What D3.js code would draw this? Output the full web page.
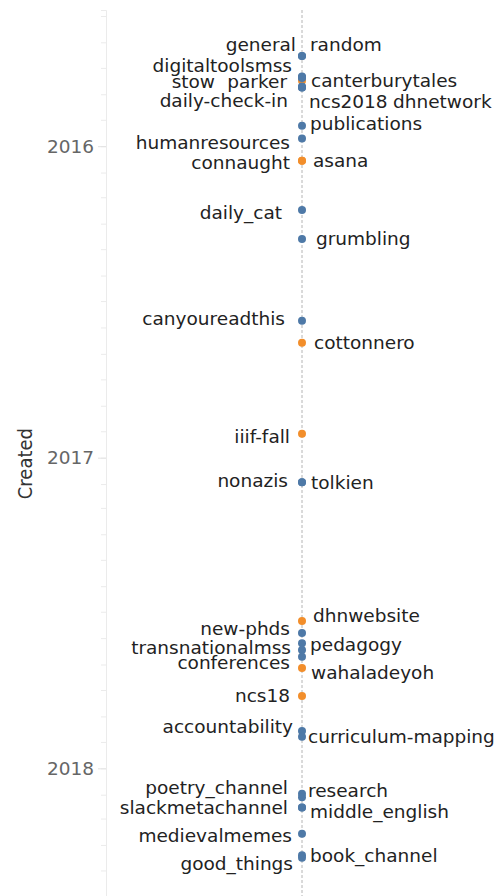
<!DOCTYPE html>
<html>
<head>
<meta charset="utf-8">
<script src="https://cdn.jsdelivr.net/npm/d3@7"></script>
<style>
  body { margin: 0; background: #fff; }
  svg text { font-family: 'DejaVu Sans', sans-serif; }
</style>
</head>
<body>
<div id="timeline"></div>
<script>
// channel name, creation date and kind (drawn in this order)
const channels = [
  'general', 'random', 'canterburytales', 'digitaltoolsmss', 'stow', 'parker',
  'dhnetwork', 'ncs2018', 'daily-check-in', 'publications', 'humanresources',
  'connaught', 'asana', 'daily_cat', 'grumbling', 'canyoureadthis', 'cottonnero',
  'iiif-fall', 'nonazis', 'tolkien', 'dhnwebsite', 'new-phds', 'transnationalmss',
  'pedagogy', 'conferences', 'wahaladeyoh', 'ncs18', 'accountability',
  'curriculum-mapping', 'poetry_channel', 'research', 'slackmetachannel',
  'middle_english', 'medievalmemes', 'book_channel', 'good_things'
]
const created = [
  '2015-09-17', '2015-09-17', '2015-10-16', '2015-10-11', '2015-10-12', '2015-10-13',
  '2015-10-23', '2015-10-24', '2015-10-24', '2015-12-08', '2015-12-23',
  '2016-01-18', '2016-01-18', '2016-03-16', '2016-04-19', '2016-07-24', '2016-08-19',
  '2016-12-04', '2017-01-30', '2017-01-30', '2017-07-12', '2017-07-26', '2017-08-07',
  '2017-08-15', '2017-08-23', '2017-09-05', '2017-10-08', '2017-11-18',
  '2017-11-25', '2018-01-31', '2018-02-04', '2018-02-16',
  '2018-02-16', '2018-03-19', '2018-04-13', '2018-04-16'
]
const kind = [
  'public', 'public', 'private', 'public', 'public', 'public',
  'public', 'public', 'public', 'public', 'public',
  'private', 'private', 'public', 'public', 'public', 'private',
  'private', 'public', 'public', 'private', 'public', 'public',
  'public', 'public', 'private', 'private', 'public',
  'public', 'public', 'public', 'public',
  'public', 'public', 'public', 'public'
]
const yearTicks = ['2016', '2017', '2018']
const axisTitle = 'Created'

// label placement: side, dx from the dot, dy from the dot
const labelLayout = {
  general: ['left', -6, -11],
  random: ['right', 8, -11],
  canterburytales: ['right', 9, 0],
  digitaltoolsmss: ['left', -10, -11],
  stow: ['left', -87, 4],
  parker: ['left', -15, 3],
  dhnetwork: ['right', 91, 15],
  ncs2018: ['right', 7, 14],
  'daily-check-in': ['left', -14, 13],
  publications: ['right', 8, -2],
  humanresources: ['left', -12, 4],
  connaught: ['left', -12, 2],
  asana: ['right', 11, 0],
  daily_cat: ['left', -20, 3],
  grumbling: ['right', 14, 0],
  canyoureadthis: ['left', -17, -2],
  cottonnero: ['right', 12, 0],
  'iiif-fall': ['left', -12, 3],
  nonazis: ['left', -14, -2],
  tolkien: ['right', 9, 0],
  dhnwebsite: ['right', 11, -6],
  'new-phds': ['left', -12, -4],
  transnationalmss: ['left', -11, 4],
  pedagogy: ['right', 8, -6],
  conferences: ['left', -12, 6],
  wahaladeyoh: ['right', 9, 5],
  ncs18: ['left', -12, 0],
  accountability: ['left', -9, -4],
  'curriculum-mapping': ['right', 6, 0],
  poetry_channel: ['left', -14, -6],
  research: ['right', 6, -7],
  slackmetachannel: ['left', -14, 0],
  middle_english: ['right', 8, 4],
  medievalmemes: ['left', -10, 2],
  book_channel: ['right', 8, 0],
  good_things: ['left', -9, 6]
}

const colors = { public: '#4e79a7', private: '#f28e2b' }

const width = 498,
  height = 896

const svg = d3
  .select('#timeline')
  .append('svg')
  .attr('width', width)
  .attr('height', height)

const parse = d3.timeParse('%Y-%m-%d')
const data = channels.map((name, i) => ({ name, date: parse(created[i]), kind: kind[i] }))

// time runs downwards
const y = d3
  .scaleTime()
  .domain([parse('2015-07-25'), parse('2018-05-31')])
  .range([10, height])

// single centred column
const x = d3.scaleLinear().domain([-1, 1]).range([106, width])

// minor month ticks
svg
  .append('g')
  .attr('class', 'minor')
  .attr('transform', 'translate(106,0)')
  .call(d3.axisLeft(y).ticks(d3.timeMonth.every(1)).tickSize(5).tickFormat(''))
  .call((g) => g.select('.domain').attr('stroke', '#ebebeb'))
  .call((g) => g.selectAll('.tick line').attr('stroke', '#ebebeb'))

// year ticks with labels
const yearDates = yearTicks.map((t) => parse(t + '-01-01'))
svg
  .append('g')
  .attr('class', 'major')
  .attr('transform', 'translate(106,0)')
  .call(d3.axisLeft(y).tickValues(yearDates).tickSize(8).tickPadding(4).tickFormat(d3.timeFormat('%Y')))
  .call((g) => g.select('.domain').remove())
  .call((g) => g.selectAll('.tick line').attr('stroke', '#e3e3e3'))
  .call((g) =>
    g
      .selectAll('.tick text')
      .attr('fill', '#666')
      .style('font-size', '18.5px')
      .style('font-family', "'DejaVu Sans', sans-serif")
  )

// axis title
svg
  .append('text')
  .attr('transform', `translate(32,${y(parse('2017-01-08'))})rotate(-90)`)
  .attr('text-anchor', 'middle')
  .attr('fill', '#333')
  .style('font-family', "'Liberation Sans Narrow', 'DejaVu Sans Condensed', sans-serif")
  .style('font-size', '20px')
  .text(axisTitle)

// dashed reference line
svg
  .append('line')
  .attr('x1', x(0))
  .attr('x2', x(0))
  .attr('y1', 10)
  .attr('y2', height)
  .attr('stroke', '#b4b4b4')
  .attr('stroke-dasharray', '3,2')

// dots
svg
  .selectAll('circle.dot')
  .data(data)
  .join('circle')
  .attr('class', 'dot')
  .attr('cx', x(0))
  .attr('cy', (d) => y(d.date))
  .attr('r', 4)
  .attr('fill', (d) => colors[d.kind])

// labels
svg
  .selectAll('text.label')
  .data(data)
  .join('text')
  .attr('class', 'label')
  .attr('x', (d) => x(0) + labelLayout[d.name][1])
  .attr('y', (d) => y(d.date) + labelLayout[d.name][2])
  .attr('dy', '0.35em')
  .attr('text-anchor', (d) => (labelLayout[d.name][0] === 'left' ? 'end' : 'start'))
  .attr('fill', '#222')
  .style('font-size', '18.5px')
  .text((d) => d.name)
</script>
</body>
</html>
